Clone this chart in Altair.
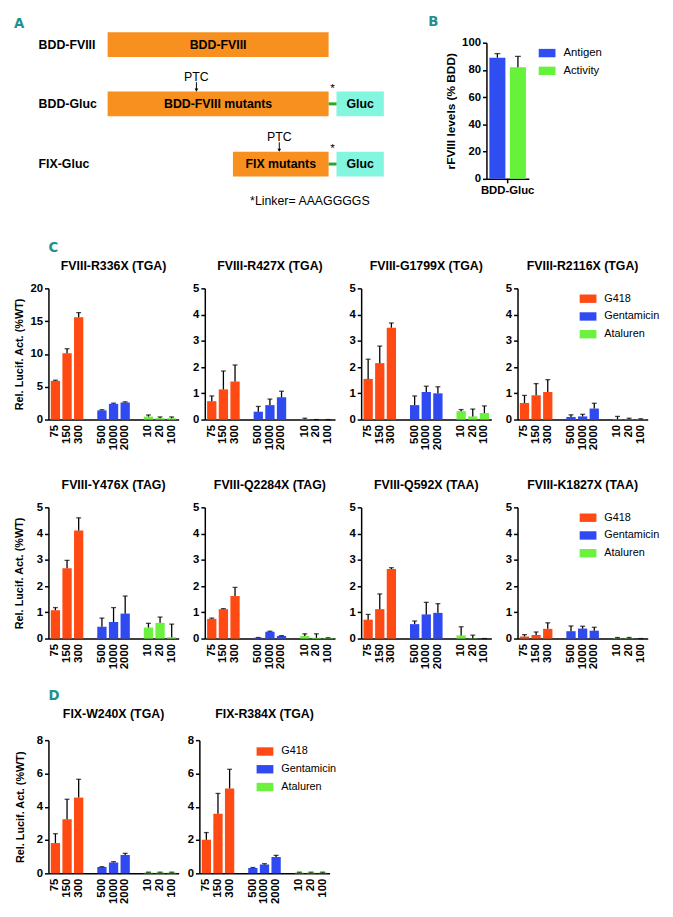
import altair as alt
import pandas as pd

FONT = "Liberation Sans, Arial, sans-serif"
LETTER_FONT = "DejaVu Sans Condensed, DejaVu Sans, sans-serif"
TEAL = "#23908f"

# ---------------- Panel A: construct schematic (diagram units) ----------------
a_row_labels = ["BDD-FVIII", "BDD-Gluc", "FIX-Gluc"]
a_row_label_x = [25, 25, 25]
a_row_center = [32, 92, 153]
a_box_names = ["BDD-FVIII", "BDD-FVIII mutants", "FIX mutants"]
a_box_start = [95, 95, 222]
a_box_end = [319, 319, 319]
a_gluc_rows = [92, 153]
a_gluc_start = [327, 327]
a_gluc_end = [375, 375]
a_linker_start = [319, 319]
a_ptc_x = [185, 269]
a_ptc_rows = [92, 153]
a_note = "*Linker= AAAGGGGS"

# ---------------- Panel B ----------------
b_construct = ["BDD-Gluc", "BDD-Gluc"]
b_measures = ["Antigen", "Activity"]
b_mean = [89, 82]
b_top = [92, 90]
b_colors = ["#2f4ef2", "#66f23a"]

# ---------------- Panels C and D ----------------
doses = ["75", "150", "300", "500", "1000", "2000", "10", "20", "100"]
drug_of_dose = ["G418"] * 3 + ["Gentamicin"] * 3 + ["Ataluren"] * 3
x_slots = ["75", "150", "300", " ", "500", "1000", "2000", "  ", "10", "20", "100"]
drug_names = ["G418", "Gentamicin", "Ataluren"]
drug_colors = ["#ff4a14", "#2f4af0", "#6cf23e"]

r336x_mean = [5.9, 10.1, 15.6, 1.4, 2.4, 2.6, 0.45, 0.2, 0.2]
r336x_top = [6.0, 10.8, 16.3, 1.5, 2.5, 2.7, 0.7, 0.4, 0.4]
r427x_mean = [0.7, 1.15, 1.45, 0.3, 0.55, 0.85, 0.01, 0.0, 0.0]
r427x_top = [0.9, 1.85, 2.08, 0.5, 0.78, 1.08, 0.05, 0.0, 0.0]
g1799x_mean = [1.55, 2.15, 3.5, 0.55, 1.05, 1.0, 0.32, 0.12, 0.25]
g1799x_top = [2.3, 2.8, 3.68, 0.9, 1.27, 1.25, 0.38, 0.4, 0.52]
r2116x_mean = [0.63, 0.93, 1.05, 0.1, 0.12, 0.42, 0.01, 0.01, 0.01]
r2116x_top = [0.92, 1.37, 1.52, 0.18, 0.2, 0.62, 0.12, 0.05, 0.03]
y476x_mean = [1.08, 2.68, 4.12, 0.45, 0.63, 0.95, 0.42, 0.6, 0.05]
y476x_top = [1.18, 2.98, 4.6, 0.78, 1.18, 1.62, 0.58, 0.82, 0.55]
q2284x_mean = [0.75, 1.12, 1.62, 0.03, 0.26, 0.1, 0.1, 0.03, 0.02]
q2284x_top = [0.78, 1.14, 1.95, 0.04, 0.28, 0.11, 0.18, 0.18, 0.03]
q592x_mean = [0.72, 1.12, 2.65, 0.55, 0.92, 0.98, 0.12, 0.01, 0.0]
q592x_top = [0.92, 1.7, 2.7, 0.67, 1.38, 1.33, 0.45, 0.13, 0.0]
k1827x_mean = [0.08, 0.14, 0.37, 0.28, 0.38, 0.3, 0.01, 0.01, 0.0]
k1827x_top = [0.15, 0.25, 0.6, 0.48, 0.47, 0.43, 0.04, 0.04, 0.0]
w240x_mean = [1.82, 3.25, 4.55, 0.38, 0.65, 1.1, 0.05, 0.05, 0.05]
w240x_top = [2.38, 4.45, 5.65, 0.4, 0.7, 1.2, 0.07, 0.07, 0.07]
r384x_mean = [2.02, 3.58, 5.1, 0.32, 0.53, 0.98, 0.05, 0.05, 0.05]
r384x_top = [2.45, 4.8, 6.25, 0.35, 0.58, 1.08, 0.07, 0.07, 0.07]

YTITLE = "Rel. Lucif. Act. (%WT)"
LEG_SYMBOL = "M-1,-0.5H1V0.5H-1Z"


def res(c):
    return c.resolve_scale(x="independent", y="independent", color="independent").resolve_legend(
        color="independent")


# ---------------- build panel A ----------------
# the plot origin of panel A lines up with the other rows' plot origins, so the
# scale domain starts inside the diagram and the leftmost / topmost items sit outside it
AX0, AW = 35, 350
AY0, AH = 30, 172
ax_s = alt.Scale(domain=[AX0, AX0 + AW], nice=False, zero=False)
ay_s = alt.Scale(domain=[AY0, AY0 + AH], nice=False, zero=False, reverse=True)
BOX_HALF = 12.5

boxes = pd.DataFrame({"name": a_box_names, "x0": a_box_start, "x1": a_box_end, "yc": a_row_center})
glucs = pd.DataFrame({"name": ["Gluc", "Gluc"], "x0": a_gluc_start, "x1": a_gluc_end, "yc": a_gluc_rows,
                      "l0": a_linker_start})
rows = pd.DataFrame({"label": a_row_labels, "x": a_row_label_x, "yc": a_row_center})
ptcs = pd.DataFrame({"label": ["PTC", "PTC"], "x": a_ptc_x, "yc": a_ptc_rows})
note = pd.DataFrame({"label": [a_note], "x": [300], "y": [190]})
letter_a = pd.DataFrame({"label": ["A"], "x": [0], "y": [3]})


def AX(f):
    return alt.X(f, type="quantitative", scale=ax_s, axis=None)


def AY(f):
    return alt.Y(f, type="quantitative", scale=ay_s, axis=None)


box_base = alt.Chart(boxes).transform_calculate(
    y0=f"datum.yc - {BOX_HALF}", y1=f"datum.yc + {BOX_HALF}", xc="(datum.x0 + datum.x1) / 2")
a_boxes = box_base.mark_rect(color="#f7901e").encode(x=AX("x0"), x2="x1", y=AY("y0"), y2="y1")
a_box_text = box_base.mark_text(font=FONT, fontSize=12.5, fontWeight="bold", color="black").encode(
    x=AX("xc"), y=AY("yc"), text="name:N")

gluc_base = alt.Chart(glucs).transform_calculate(
    y0=f"datum.yc - {BOX_HALF}", y1=f"datum.yc + {BOX_HALF}", xc="(datum.x0 + datum.x1) / 2",
    ys="datum.yc - 16", xs="(datum.l0 + datum.x0) / 2")
a_gluc = gluc_base.mark_rect(color="#82f6de").encode(x=AX("x0"), x2="x1", y=AY("y0"), y2="y1")
a_gluc_text = gluc_base.mark_text(font=FONT, fontSize=12.5, fontWeight="bold", color="black").encode(
    x=AX("xc"), y=AY("yc"), text="name:N")
a_linker = gluc_base.mark_rule(color="#2ba52b", strokeWidth=3).encode(x=AX("l0"), x2="x0", y=AY("yc"))
a_star = gluc_base.mark_text(font=FONT, fontSize=12, color="black", text="*").encode(x=AX("xs"), y=AY("ys"))

a_rows = alt.Chart(rows).mark_text(font=FONT, fontSize=12.5, fontWeight="bold", color="black",
                                   align="left").encode(x=AX("x"), y=AY("yc"), text="label:N")

ptc_base = alt.Chart(ptcs).transform_calculate(yt="datum.yc - 27", ya0="datum.yc - 22", ya1="datum.yc - 14")
a_ptc = ptc_base.mark_text(font=FONT, fontSize=12.5, color="black").encode(x=AX("x"), y=AY("yt"),
                                                                          text="label:N")
a_arrow = ptc_base.mark_rule(color="black", strokeWidth=1).encode(x=AX("x"), y=AY("ya0"), y2="ya1")
a_head = ptc_base.mark_point(shape="triangle-down", filled=True, size=14, color="black", opacity=1).encode(
    x=AX("x"), y=AY("ya1"))
a_note_t = alt.Chart(note).mark_text(font=FONT, fontSize=12.5, color="black").encode(
    x=AX("x"), y=AY("y"), text="label:N")
a_letter = alt.Chart(letter_a).mark_text(font=LETTER_FONT, fontSize=15, fontWeight="bold", color=TEAL,
                                         align="left", baseline="top").encode(x=AX("x"), y=AY("y"),
                                                                              text="label:N")

panel_a = alt.layer(a_boxes, a_box_text, a_gluc, a_gluc_text, a_linker, a_star, a_rows, a_ptc, a_arrow,
                    a_head, a_note_t, a_letter).properties(width=AW, height=AH)

# ---------------- build panel B ----------------
b_df = pd.DataFrame({"construct": b_construct, "measure": b_measures, "mean": b_mean, "top": b_top})
bX = alt.X("construct:N", scale=alt.Scale(paddingOuter=0.08, paddingInner=0),
           axis=alt.Axis(title=None, labelAngle=0, labelFontSize=11.5, tickSize=4, labelPadding=2))
bXO = alt.XOffset("measure:N", sort=b_measures,
                  scale=alt.Scale(domain=b_measures, paddingInner=0.22, paddingOuter=0))
bYS = alt.Scale(domain=[0, 100], nice=False)
bYA = alt.Axis(values=[0, 20, 40, 60, 80, 100], title="rFVIII levels (% BDD)", titleFontSize=12,
               labelFontSize=11.5, titlePadding=4, tickSize=4, labelPadding=2)
b_bars = alt.Chart(b_df).mark_bar().encode(
    x=bX, xOffset=bXO, y=alt.Y("mean:Q", scale=bYS, axis=bYA),
    color=alt.Color("measure:N", scale=alt.Scale(domain=b_measures, range=b_colors),
                    legend=alt.Legend(title=None, orient="none", legendX=53, legendY=2,
                                      symbolType=LEG_SYMBOL, symbolSize=289, symbolStrokeWidth=0,
                                      labelFontSize=11.5, labelOffset=8, rowPadding=4)))
b_err = alt.Chart(b_df).mark_rule(color="black", strokeWidth=1.3).encode(
    x=bX, xOffset=bXO, y=alt.Y("mean:Q", scale=bYS, axis=bYA), y2="top:Q")
b_cap = alt.Chart(b_df).mark_tick(color="black", thickness=1.3, size=6).encode(
    x=bX, xOffset=bXO, y=alt.Y("top:Q", scale=bYS, axis=bYA))
panel_b = alt.layer(b_bars, b_err, b_cap).properties(
    width=43, height=138,
    title=alt.TitleParams("B", anchor="start", dx=-59, font=LETTER_FONT, fontSize=15, fontWeight="bold",
                          color=TEAL, offset=8))


# ---------------- bar panels ----------------
def panel(title, mean, top, ymax, ystep, ytitle=False, tpad=5, legend=False, legendX=63, legendY=2,
          w=132, h=133, toff=10):
    df = pd.DataFrame({"dose": doses, "drug": drug_of_dose, "mean": mean, "top": top})
    xs = alt.Scale(domain=x_slots, paddingInner=0.2, paddingOuter=0.2)
    xa = alt.Axis(title=None, labelAngle=-90, ticks=False, labelPadding=5, labelFontSize=11.5)
    X = alt.X("dose:N", scale=xs, axis=xa)
    ys = alt.Scale(domain=[0, ymax], nice=False)
    if ytitle:
        ya = alt.Axis(values=list(range(0, ymax + 1, ystep)), title=YTITLE, titlePadding=tpad, tickSize=4,
                      labelPadding=2)
    else:
        ya = alt.Axis(values=list(range(0, ymax + 1, ystep)), title=None, tickSize=4, labelPadding=2)
    if legend:
        leg = alt.Legend(title=None, orient="none", legendX=legendX, legendY=legendY, symbolType=LEG_SYMBOL,
                         symbolSize=289, symbolStrokeWidth=0, labelFontSize=11, labelOffset=8, rowPadding=4)
    else:
        leg = None
    bars = alt.Chart(df).mark_bar().encode(
        x=X, y=alt.Y("mean:Q", scale=ys, axis=ya),
        color=alt.Color("drug:N", scale=alt.Scale(domain=drug_names, range=drug_colors), legend=leg))
    err = alt.Chart(df).mark_rule(color="black", strokeWidth=1.3).encode(
        x=X, y=alt.Y("mean:Q", scale=ys, axis=ya), y2="top:Q")
    cap = alt.Chart(df).mark_tick(color="black", thickness=1.3, size=5).encode(
        x=X, y=alt.Y("top:Q", scale=ys, axis=ya))
    return alt.layer(bars, err, cap).properties(width=w, height=h,
                                                title=alt.TitleParams(title, offset=toff))


c1 = panel("FVIII-R336X (TGA)", r336x_mean, r336x_top, 20, 5, ytitle=True, tpad=5)
c2 = panel("FVIII-R427X (TGA)", r427x_mean, r427x_top, 5, 1)
c3 = panel("FVIII-G1799X (TGA)", g1799x_mean, g1799x_top, 5, 1)
c4 = panel("FVIII-R2116X (TGA)", r2116x_mean, r2116x_top, 5, 1, legend=True)
c5 = panel("FVIII-Y476X (TAG)", y476x_mean, y476x_top, 5, 1, ytitle=True, tpad=12)
c6 = panel("FVIII-Q2284X (TAG)", q2284x_mean, q2284x_top, 5, 1)
c7 = panel("FVIII-Q592X (TAA)", q592x_mean, q592x_top, 5, 1)
c8 = panel("FVIII-K1827X (TAA)", k1827x_mean, k1827x_top, 5, 1, legend=True)
d1 = panel("FIX-W240X (TGA)", w240x_mean, w240x_top, 8, 2, ytitle=True, tpad=11, h=135, toff=14)
d2 = panel("FIX-R384X (TGA)", r384x_mean, r384x_top, 8, 2, legend=True, legendX=58, legendY=3, h=135, toff=14)


def letter(t):
    return alt.TitleParams(t, anchor="start", font=LETTER_FONT, fontSize=15, fontWeight="bold",
                           color=TEAL, offset=5)


row1 = res(alt.hconcat(panel_a, panel_b, spacing=35))
rowc1 = res(alt.hconcat(c1, c2, c3, c4, spacing=13.5))
rowc2 = res(alt.hconcat(c5, c6, c7, c8, spacing=13.5))
rowc = res(alt.vconcat(rowc1, rowc2, spacing=29, title=letter("C")))
rowd = res(alt.hconcat(d1, d2, spacing=8, title=letter("D")))
lower = res(alt.vconcat(rowc, rowd, spacing=19))
chart = res(alt.vconcat(row1, lower, spacing=28)).properties(
    padding={"top": 0, "bottom": 2, "left": 5, "right": 5})

chart = chart.configure_view(stroke=None).configure_axis(
    labelFont=FONT, titleFont=FONT, labelFontWeight="bold", titleFontWeight="bold", labelColor="black",
    titleColor="black", domainColor="black", tickColor="black", domainWidth=1.5, tickWidth=1.5, grid=False,
    labelFontSize=11.5, titleFontSize=11
).configure_title(
    font=FONT, fontSize=12.5, fontWeight="bold", color="black", frame="group", anchor="middle", offset=10
).configure_legend(
    labelFont=FONT, labelColor="black", labelFontWeight="normal"
)

chart.save("out.html", embed_options={"renderer": "svg", "actions": False})
